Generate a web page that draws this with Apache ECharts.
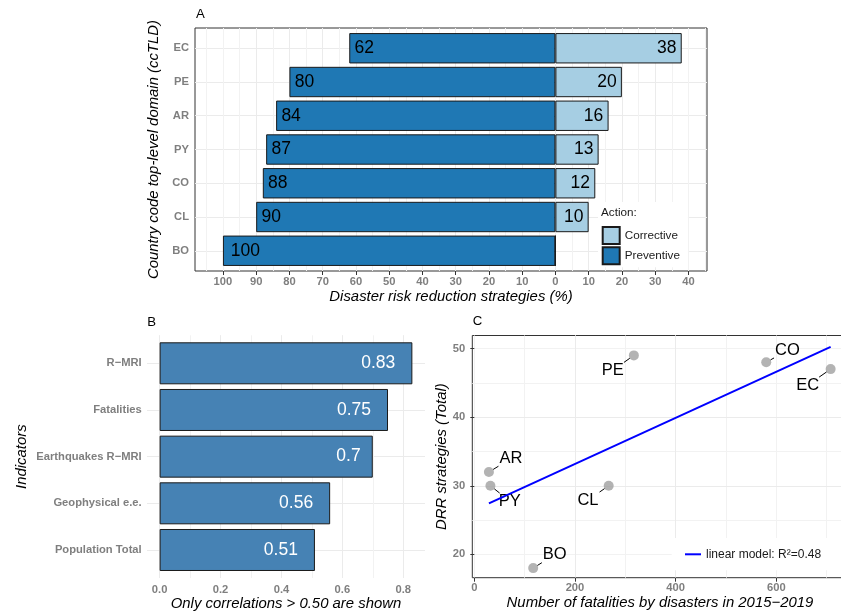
<!DOCTYPE html>
<html><head><meta charset="utf-8">
<script src="https://cdn.jsdelivr.net/npm/echarts@6/dist/echarts.min.js"></script>
<style>html,body{margin:0;padding:0;background:#fff}#c{width:841px;height:614px}</style>
</head><body><div id="c"></div>
<script>
// ---------- DATA ----------
// Panel A
const aCountries = ['EC', 'PE', 'AR', 'PY', 'CO', 'CL', 'BO'];
const aPreventive = [62, 80, 84, 87, 88, 90, 100];
const aCorrective = [38, 20, 16, 13, 12, 10, 0];
const aTicks = [-100, -90, -80, -70, -60, -50, -40, -30, -20, -10, 0, 10, 20, 30, 40];
// Panel B
const bIndicators = ['R−MRI', 'Fatalities', 'Earthquakes R−MRI', 'Geophysical e.e.', 'Population Total'];
const bCorr = [0.83, 0.75, 0.7, 0.56, 0.51];
const bTicks = [0, 0.2, 0.4, 0.6, 0.8];
// Panel C
const cCountries = ['AR', 'PY', 'BO', 'CL', 'PE', 'CO', 'EC'];
const cFatalities = [29, 32, 117, 267, 317, 580, 708];
const cDRR = [32, 30, 18, 30, 49, 48, 47];
const cXTicks = [0, 200, 400, 600];
const cYTicks = [20, 30, 40, 50];
const cLegendText = 'linear model: R²=0.48';

// ---------- LAYOUT ----------
const FONT = '"Liberation Sans", Arial, Helvetica, sans-serif';
const PA = {l: 195, r: 707, t: 28, b: 271, xMin: -108.4, xMax: 45.6};
const PB = {l: 147, r: 425, t: 335.3, b: 578, xMin: -0.0415, xMax: 0.8715};
const PC = {l: 472.3, r: 847.6, t: 335.5, b: 577.7, xMin: -4, xMax: 741.7, yMin: 16.6, yMax: 51.9};
const cLabelNudge = {AR: [22, -13.4], PY: [19.3, 15.3], BO: [21.5, -13.4], CL: [-20.7, 14.3], PE: [-21.2, 15], CO: [21.2, -11.7], EC: [-23, 16]};

const GRID_MAJOR = '#EBEBEB', GRID_MINOR = '#F2F2F2', TICK_COL = '#7F7F7F';
const TICK_SIZE = 11.2, TITLE_SIZE = 14.9, BARLAB = 17.5, PTLAB = 16.5;

const mctx = document.createElement('canvas').getContext('2d');
function tw(t, size, weight) { mctx.font = (weight || 'normal') + ' ' + size + 'px ' + FONT; return mctx.measureText(t).width; }
function rect(l, t, r, b) { return {left: l, top: t, width: r - l, height: b - t, containLabel: false, outerBoundsMode: 'none'}; }

// discrete scale: categories 1..n with 0.6 expansion each side
const nA = aCountries.length, uA = (PA.b - PA.t) / (nA + 0.2);
const nB = bIndicators.length, uB = (PB.b - PB.t) / (nB + 0.2);

const grids = [
  Object.assign(rect(PA.l, PA.t, PA.r, PA.b), {show: true, borderColor: '#333', borderWidth: 1, backgroundColor: 'transparent'}),
  rect(PA.l, PA.t + 0.1 * uA, PA.r, PA.t + 0.1 * uA + nA * uA),
  rect(PB.l, PB.t, PB.r, PB.b),
  rect(PB.l, PB.t + 0.1 * uB, PB.r, PB.t + 0.1 * uB + nB * uB),
  Object.assign(rect(PC.l, PC.t, PC.r, PC.b), {show: true, borderColor: '#333', borderWidth: 1, backgroundColor: 'transparent'})
];

const tickLabelStyle = {fontFamily: FONT, fontSize: TICK_SIZE, fontWeight: 'bold', color: TICK_COL};
const nameStyle = {fontFamily: FONT, fontSize: TITLE_SIZE, fontStyle: 'italic', color: '#000'};
function gridOnlyAxis(gi, min, max, split, col, extra) {
  return Object.assign({
    type: 'value', gridIndex: gi, min: min, max: max, splitNumber: split,
    axisLine: {show: false}, axisTick: {show: false}, axisLabel: {show: false},
    splitLine: {show: true, showMinLine: false, showMaxLine: false, lineStyle: {color: col, width: 1}}
  }, extra || {});
}

const xAxes = [
  gridOnlyAxis(0, PA.xMin, PA.xMax, 15, GRID_MAJOR, {
    axisTick: {show: true, customValues: aTicks, length: 4, lineStyle: {color: '#333', width: 1}},
    axisLabel: Object.assign({show: true, customValues: aTicks, margin: 5, formatter: v => String(Math.abs(v))}, tickLabelStyle),
    name: 'Disaster risk reduction strategies (%)', nameLocation: 'middle', nameGap: 18, nameTextStyle: nameStyle, z: 1
  }),
  gridOnlyAxis(0, PA.xMin, PA.xMax, 30, GRID_MINOR, {z: 0}),
  {type: 'value', gridIndex: 1, min: PA.xMin, max: PA.xMax, show: false},
  gridOnlyAxis(2, PB.xMin, PB.xMax, 5, GRID_MAJOR, {
    axisLabel: Object.assign({show: true, customValues: bTicks, margin: 6, formatter: v => v.toFixed(1)}, tickLabelStyle),
    name: 'Only correlations > 0.50 are shown', nameLocation: 'middle', nameGap: 18.5, nameTextStyle: nameStyle, z: 1
  }),
  gridOnlyAxis(2, PB.xMin, PB.xMax, 9, GRID_MINOR, {z: 0}),
  {type: 'value', gridIndex: 3, min: PB.xMin, max: PB.xMax, show: false},
  gridOnlyAxis(4, PC.xMin, PC.xMax, 4, GRID_MAJOR, {
    axisTick: {show: true, customValues: cXTicks, length: 4, lineStyle: {color: '#333', width: 1}},
    axisLabel: Object.assign({show: true, customValues: cXTicks, margin: 5}, tickLabelStyle),
    name: 'Number of fatalities by disasters in 2015−2019', nameLocation: 'middle', nameGap: 18, nameTextStyle: nameStyle, z: 1
  }),
  gridOnlyAxis(4, PC.xMin, PC.xMax, 7, GRID_MINOR, {z: 0})
];

const yAxes = [
  gridOnlyAxis(0, 0.4, nA + 0.6, nA, GRID_MAJOR),
  {type: 'category', gridIndex: 1, data: aCountries, inverse: true, boundaryGap: true,
   axisLine: {show: false}, axisTick: {show: true, alignWithLabel: true, length: 4, lineStyle: {color: '#333', width: 1}},
   axisLabel: Object.assign({margin: 6}, tickLabelStyle), splitLine: {show: false},
   name: 'Country code top-level domain (ccTLD)', nameLocation: 'middle', nameGap: 27, nameTextStyle: nameStyle},
  gridOnlyAxis(2, 0.4, nB + 0.6, nB, GRID_MAJOR),
  {type: 'category', gridIndex: 3, data: bIndicators, inverse: true, boundaryGap: true,
   axisLine: {show: false}, axisTick: {show: false},
   axisLabel: Object.assign({margin: 5.3}, tickLabelStyle), splitLine: {show: false},
   name: 'Indicators', nameLocation: 'middle', nameGap: 118, nameTextStyle: nameStyle},
  gridOnlyAxis(4, PC.yMin, PC.yMax, 4, GRID_MAJOR, {
    axisTick: {show: true, customValues: cYTicks, length: 4, lineStyle: {color: '#333', width: 1}},
    axisLabel: Object.assign({show: true, customValues: cYTicks, margin: 7}, tickLabelStyle),
    name: 'DRR strategies (Total)', nameLocation: 'middle', nameGap: 21.5, nameTextStyle: nameStyle, z: 1
  }),
  gridOnlyAxis(4, PC.yMin, PC.yMax, 7, GRID_MINOR, {z: 0})
];

function fit(xs, ys) {
  const n = xs.length, mx = xs.reduce((a, b) => a + b) / n, my = ys.reduce((a, b) => a + b) / n;
  let sxy = 0, sxx = 0;
  for (let i = 0; i < n; i++) { sxy += (xs[i] - mx) * (ys[i] - my); sxx += (xs[i] - mx) ** 2; }
  const s = sxy / sxx; return {s: s, i: my - s * mx};
}
const lm = fit(cFatalities, cDRR);
const xLo = Math.min(...cFatalities), xHi = Math.max(...cFatalities);

const barBorder = {borderColor: '#1a1a1a', borderWidth: 1};
const series = [
  {name: 'Preventive', type: 'bar', xAxisIndex: 2, yAxisIndex: 1, barWidth: '90%', barGap: '-100%',
   itemStyle: Object.assign({color: '#1F78B4'}, barBorder),
   label: {show: true, position: 'insideLeft', color: '#000', fontFamily: FONT, fontSize: BARLAB, formatter: p => String(Math.abs(p.value))},
   data: aPreventive.map(v => ({value: -v, label: {distance: 0.27 * tw(String(v), BARLAB)}}))},
  {name: 'Corrective', type: 'bar', xAxisIndex: 2, yAxisIndex: 1, barWidth: '90%', barGap: '-100%',
   itemStyle: Object.assign({color: '#A6CEE3'}, barBorder),
   label: {show: true, position: 'insideRight', color: '#000', fontFamily: FONT, fontSize: BARLAB, formatter: p => p.value ? String(p.value) : ''},
   data: aCorrective.map(v => ({value: v, label: {distance: 0.27 * tw(String(v), BARLAB)}}))},
  {name: 'corr', type: 'bar', xAxisIndex: 5, yAxisIndex: 3, barWidth: '90%',
   itemStyle: Object.assign({color: '#4682B4'}, barBorder),
   label: {show: true, position: 'insideRight', color: '#fff', fontFamily: FONT, fontSize: BARLAB},
   data: bCorr.map(v => ({value: v, label: {distance: 0.5 * tw(String(v), BARLAB)}}))},
  {name: 'pts', type: 'scatter', xAxisIndex: 6, yAxisIndex: 4, symbolSize: 10,
   itemStyle: {color: '#A0A0A0'}, z: 3,
   data: cFatalities.map((x, i) => [x, cDRR[i]])},
  {name: 'labels', type: 'custom', xAxisIndex: 6, yAxisIndex: 4, z: 4,
   data: cFatalities.map((x, i) => [x, cDRR[i], i]),
   renderItem: function (params, api) {
     const name = cCountries[api.value(2)];
     const p = api.coord([api.value(0), api.value(1)]);
     const nd = cLabelNudge[name];
     const c = [p[0] + nd[0], p[1] + nd[1]];
     const len = Math.hypot(nd[0], nd[1]);
     const d = [nd[0] / len, nd[1] / len];
     const hw = tw(name, PTLAB) / 2 + 1, hh = 8;
     const f = Math.min(hw / Math.abs(nd[0]), hh / Math.abs(nd[1]));
     const s = [p[0] + d[0] * 5, p[1] + d[1] * 5];
     const e = [c[0] - nd[0] * f, c[1] - nd[1] * f];
     return {type: 'group', children: [
       {type: 'line', shape: {x1: s[0], y1: s[1], x2: e[0], y2: e[1]}, style: {stroke: '#000', lineWidth: 1}},
       {type: 'text', style: {text: name, x: c[0], y: c[1], align: 'center', verticalAlign: 'middle', fontSize: PTLAB, fontFamily: FONT, fill: '#000'}}
     ]};
   }},
  {name: cLegendText, type: 'line', xAxisIndex: 6, yAxisIndex: 4, symbol: 'none', z: 5,
   lineStyle: {color: '#0000FF', width: 2}, itemStyle: {color: '#0000FF'},
   data: [[xLo, lm.i + lm.s * xLo], [xHi, lm.i + lm.s * xHi]]}
];

const option = {
  animation: false,
  backgroundColor: '#fff',
  textStyle: {fontFamily: FONT},
  grid: grids,
  xAxis: xAxes,
  yAxis: yAxes,
  legend: [
    {data: ['Corrective', 'Preventive'], orient: 'vertical', left: 598, top: 202, padding: [24, 8, 2, 3.7],
     itemWidth: 17, itemHeight: 17, itemGap: 1.3, icon: 'rect', backgroundColor: '#fff', selectedMode: false,
     textStyle: {fontFamily: FONT, fontSize: 11.7, color: '#1a1a1a'}},
    {data: [{name: cLegendText, icon: 'rect'}], left: 671.7, top: 538, padding: [10.3, 20, 10, 13.3], itemWidth: 16, itemHeight: 2,
     backgroundColor: '#fff', selectedMode: false,
     textStyle: {fontFamily: FONT, fontSize: 12, color: '#1a1a1a'}}
  ],
  graphic: [
    {type: 'text', left: 196, top: 8, style: {text: 'A', fontSize: 13.2, fontFamily: FONT, fill: '#000'}},
    {type: 'text', left: 147.3, top: 315.5, style: {text: 'B', fontSize: 13.2, fontFamily: FONT, fill: '#000'}},
    {type: 'text', left: 472.7, top: 315.3, style: {text: 'C', fontSize: 13.2, fontFamily: FONT, fill: '#000'}},
    {type: 'text', left: 601, top: 207, z: 100, style: {text: 'Action:', fontSize: 11.7, fontFamily: FONT, fill: '#1a1a1a'}}
  ],
  series: series
};
const chart = echarts.init(document.getElementById('c'), null, {renderer: 'canvas'});
chart.setOption(option);
</script>
</body></html>
